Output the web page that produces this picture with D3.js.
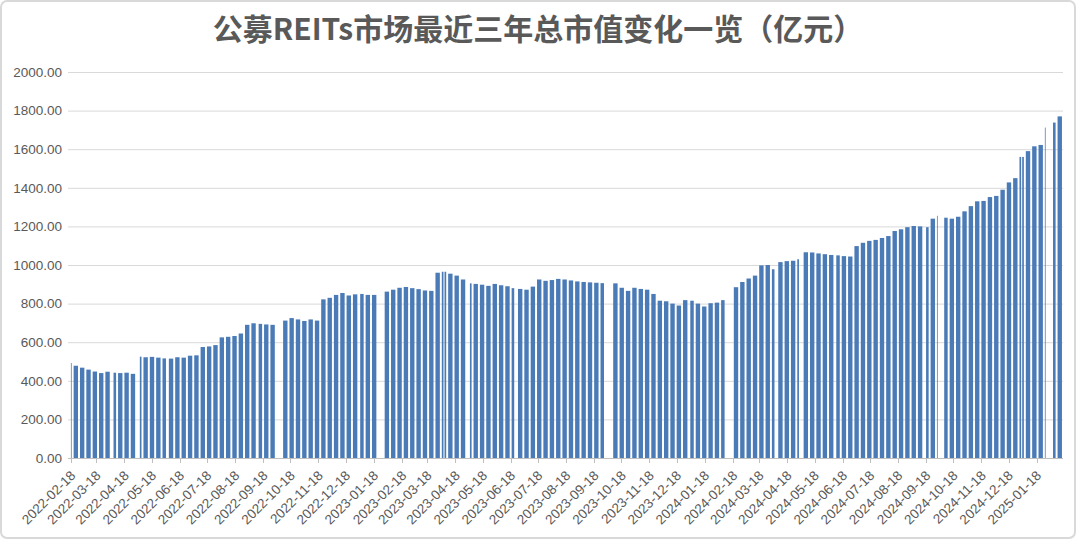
<!DOCTYPE html>
<html><head><meta charset="utf-8">
<script src="https://cdn.jsdelivr.net/npm/d3@7"></script>
<style>html,body{margin:0;padding:0;background:#fff;}svg{display:block;}</style>
</head><body>
<script>
// ---- DATA ----
const title = "公募REITs市场最近三年总市值变化一览（亿元）";
const firstMonday = "2022-02-14";   // weeks run Monday..Friday, one value per week
const dataStart = "2022-02-18";
const dataEnd = "2025-02-14";
// weekly market value (亿元); null = market closed all week
const values2022 = [492,478,468,458,448,440,447,442,440,442,436,525,522,524,520,516,515,522,520,530,532,575,578,585,625,628,632,645,690,698,695,692,690,null,712,725,718,710,718,712,822,830,845,855,842,848];
const values2023 = [850,845,845,null,862,872,882,886,880,875,868,866,960,965,955,945,925,905,902,898,892,902,895,890,880,876,872,888,925,918,922,928,925,920,915,912,910,908,906,null,905,882,866,882,876,872,850,815,812,800,790,818];
const values2024 = [815,800,785,802,805,818,null,885,912,930,945,998,1000,978,1015,1020,1022,1030,1066,1065,1060,1056,1052,1050,1046,1044,1098,1115,1125,1130,1140,1150,1176,1185,1196,1202,1200,1196,1240,1255,1245,1240,1250,1278,1305,1330,1332,1352,1358,1390,1428,1450,1560];
const values2025 = [1590,1615,1622,1712,1738,1770];
// exchange holidays (weekdays closed)
const holidays = [["2022-04-04","2022-04-05"],["2022-05-02","2022-05-04"],["2022-06-03","2022-06-03"],["2022-09-12","2022-09-12"],["2022-10-03","2022-10-07"],["2023-01-02","2023-01-02"],["2023-01-23","2023-01-27"],["2023-04-05","2023-04-05"],["2023-05-01","2023-05-03"],["2023-06-22","2023-06-23"],["2023-09-29","2023-10-06"],["2024-01-01","2024-01-01"],["2024-02-09","2024-02-16"],["2024-04-04","2024-04-05"],["2024-05-01","2024-05-03"],["2024-06-10","2024-06-10"],["2024-09-16","2024-09-17"],["2024-10-01","2024-10-07"],["2025-01-01","2025-01-01"],["2025-01-28","2025-02-04"]];
const tickLabels = ["2022-02-18","2022-03-18","2022-04-18","2022-05-18","2022-06-18","2022-07-18","2022-08-18","2022-09-18","2022-10-18","2022-11-18","2022-12-18","2023-01-18","2023-02-18","2023-03-18","2023-04-18","2023-05-18","2023-06-18","2023-07-18","2023-08-18","2023-09-18","2023-10-18","2023-11-18","2023-12-18","2024-01-18","2024-02-18","2024-03-18","2024-04-18","2024-05-18","2024-06-18","2024-07-18","2024-08-18","2024-09-18","2024-10-18","2024-11-18","2024-12-18","2025-01-18"];
const yTicks = [0,200,400,600,800,1000,1200,1400,1600,1800,2000];

// ---- CHART ----
const W = 1080, H = 542;
const parse = d3.timeParse("%Y-%m-%d");
const svg = d3.select("body").append("svg").attr("width", W).attr("height", H);

svg.append("rect").attr("x",1).attr("y",1).attr("width",W-6).attr("height",H-5)
  .attr("rx",6).attr("fill","#fff").attr("stroke","#d9d9d9").attr("stroke-width",2);

svg.append("text").attr("x",538).attr("y",40).attr("text-anchor","middle")
  .attr("font-family","'Noto Sans CJK SC',sans-serif").attr("font-weight",700)
  .attr("font-size",30).attr("fill","#595959").text(title);

const x = d3.scaleTime().domain([parse("2022-02-17"), parse("2025-02-16")]).range([70, 1063]);
const y = d3.scaleLinear().domain([0, 2000]).range([458, 72]);

// gridlines + y labels
const gy = svg.append("g");
gy.selectAll("line").data(yTicks.filter(d=>d>0)).join("line")
  .attr("x1",68).attr("x2",1063).attr("y1",d=>y(d)+0.5).attr("y2",d=>y(d)+0.5)
  .attr("stroke","#d9d9d9").attr("stroke-width",1);
gy.selectAll("text").data(yTicks).join("text")
  .attr("x",62).attr("y",d=>y(d)).attr("dy","0.35em").attr("text-anchor","end")
  .attr("font-family","'Liberation Sans',Arial,sans-serif").attr("font-size",13.5)
  .attr("fill","#595959").text(d=>d3.format(".2f")(d));

// build trading-day runs per week
const hol = holidays.map(([a,b])=>[parse(a), parse(b)]);
const isClosed = d => hol.some(([a,b]) => d >= a && d <= b);
const allValues = values2022.concat(values2023, values2024, values2025);
const mondays = d3.timeMonday.range(parse(firstMonday), d3.timeDay.offset(parse(dataEnd),1));
const s0 = parse(dataStart), s1 = parse(dataEnd);
const runs = [];
mondays.forEach((m, i) => {
  const v = allValues[i];
  if (v == null) return;
  let cur = null;
  for (let k = 0; k < 5; k++) {
    const d = d3.timeDay.offset(m, k);
    const open = d >= s0 && d <= s1 && !isClosed(d);
    if (open) {
      if (!cur) { cur = {start: d, end: d, value: v}; runs.push(cur); }
      else cur.end = d;
    } else cur = null;
  }
});

svg.append("g").selectAll("rect").data(runs).join("rect")
  .attr("x", d => x(d.start))
  .attr("width", d => x(d3.timeDay.offset(d.end,1)) - x(d.start) - 0.15)
  .attr("y", d => y(d.value))
  .attr("height", d => y(0) - y(d.value))
  .attr("fill", "#4a7bb7");

// x axis
svg.append("line").attr("x1",68).attr("x2",1063).attr("y1",458.5).attr("y2",458.5)
  .attr("stroke","#bfbfbf").attr("stroke-width",1);
const tickDates = tickLabels.map(parse);
const gx = svg.append("g");
gx.selectAll("line").data(tickDates).join("line")
  .attr("x1",d=>Math.round(x(d))+0.5).attr("x2",d=>Math.round(x(d))+0.5)
  .attr("y1",458).attr("y2",463).attr("stroke","#bfbfbf");
gx.selectAll("text").data(tickDates).join("text")
  .attr("transform", d => `translate(${x(d)+2},${473}) rotate(-45)`)
  .attr("text-anchor","end").attr("dy","0.35em")
  .attr("font-family","'Liberation Sans',Arial,sans-serif").attr("font-size",13.5)
  .attr("fill","#595959").text((d,i)=>tickLabels[i]);
</script>
</body></html>
